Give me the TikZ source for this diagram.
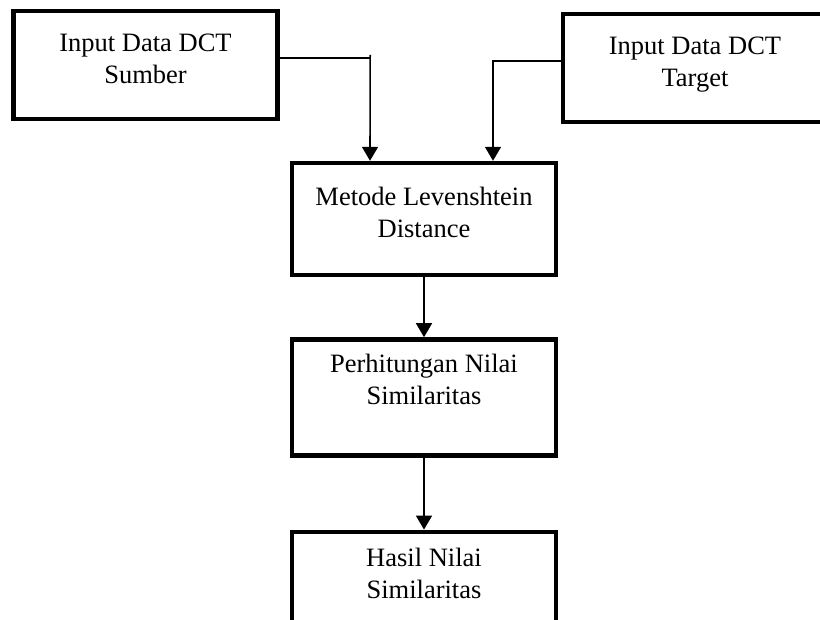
\documentclass[tikz,border=0pt]{standalone}
\usepackage{fontspec}
\setmainfont{Liberation Serif}
\usepackage{tikz}
\usetikzlibrary{arrows.meta,positioning,calc}

\begin{document}
\begin{tikzpicture}[
    x=1pt, y=1pt,
    node distance=30pt,
    bx/.style={rectangle, draw=black, line width=2.2pt, align=center, minimum width=132pt, minimum height=54pt, font=\fontsize{13.25}{16}\selectfont},
    arr/.style={-{Triangle[width=8pt,length=7pt]}, line width=0.8pt}
]
    \useasboundingbox (0,0) rectangle (410,-310);

    \node [bx, text depth=6pt] (src) at (72.75,-32.5) {Input Data DCT\\Sumber};
    \node [bx, text depth=6pt] (tgt) at (347.5,-34) {Input Data DCT\\Target};
    \node [bx, minimum height=56pt, text depth=7pt] (lev) at (212,-109.5) {Metode Levenshtein\\Distance};
    \node [bx, minimum height=58pt, text depth=18pt, below=of lev] (sim) {Perhitungan Nilai\\Similaritas};
    \node [bx, minimum height=58pt, text depth=16pt, below=36pt of sim] (hasil) {Hasil Nilai\\Similaritas};

    % masukan ke metode
    \coordinate (j1) at ($(src.east)+(45.25,3.5)$);
    \draw [line width=0.6pt] ($(src.east)+(0,3.5)$) -- (j1);
    \draw [arr] ($(j1)+(0,1.5)$) -- ($(lev.north)+(-27,0)$);
    \draw [arr] ($(tgt.west)+(0,3.5)$) -| ($(lev.north)+(34.5,0)$);

    % alur ke bawah
    \draw [arr] (lev) -- (sim);
    \draw [arr] (sim) -- (hasil);
\end{tikzpicture}
\end{document}
